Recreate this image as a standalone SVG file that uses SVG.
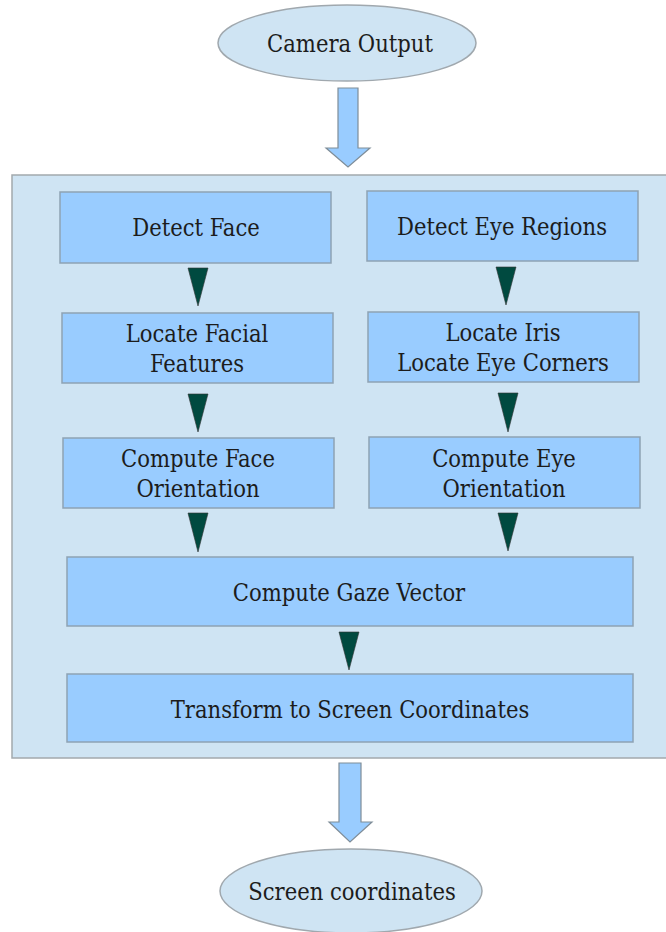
<svg xmlns="http://www.w3.org/2000/svg" width="666" height="932" viewBox="0 0 666 932">
  <style>
    .bg { fill: #ffffff; }
    .panel { fill: #cfe4f3; stroke: #a3a9ad; stroke-width: 1.5; }
    .term { fill: #cfe4f3; stroke: #a0a8ae; stroke-width: 1.5; }
    .step { fill: #99ccff; stroke: #8ea2b4; stroke-width: 1.5; }
    .flow { fill: #99ccff; stroke: #7f8d98; stroke-width: 1.2; }
    .tri { fill: #004a40; stroke: #333; stroke-width: 0.6; }
    .lbl { font-family: 'DejaVu Serif Condensed', 'DejaVu Serif', serif; font-stretch: condensed; font-size: 23.5px; fill: #1c1c1c; text-anchor: middle; }
  </style>

  <rect class="bg" x="0" y="0" width="666" height="932"/>

  <!-- processing panel -->
  <rect id="panel" class="panel" x="12" y="175" width="660" height="583"/>

  <g class="lbl">
  <g id="camera-output">
    <ellipse class="term" cx="347" cy="43" rx="129" ry="38"/>
    <text x="350" y="52">Camera Output</text>
  </g>

  <g id="detect-face">
    <rect class="step" x="60" y="192" width="271" height="71"/>
    <text x="196" y="236">Detect Face</text>
  </g>

  <g id="detect-eye-regions">
    <rect class="step" x="367" y="191" width="271" height="70"/>
    <text x="502" y="235">Detect Eye Regions</text>
  </g>

  <g id="locate-facial-features">
    <rect class="step" x="62" y="313" width="271" height="70"/>
    <text x="197" y="342">Locate Facial</text>
    <text x="197" y="372">Features</text>
  </g>

  <g id="locate-iris">
    <rect class="step" x="368" y="312" width="271" height="70"/>
    <text x="503" y="341">Locate Iris</text>
    <text x="503" y="371">Locate Eye Corners</text>
  </g>

  <g id="face-orientation">
    <rect class="step" x="63" y="438" width="271" height="70"/>
    <text x="198" y="467">Compute Face</text>
    <text x="198" y="497">Orientation</text>
  </g>

  <g id="eye-orientation">
    <rect class="step" x="369" y="437" width="271" height="71"/>
    <text x="504" y="467">Compute Eye</text>
    <text x="504" y="497">Orientation</text>
  </g>

  <g id="gaze-vector">
    <rect class="step" x="67" y="557" width="566" height="69"/>
    <text x="349" y="601">Compute Gaze Vector</text>
  </g>

  <g id="screen-transform">
    <rect class="step" x="67" y="674" width="566" height="68"/>
    <text x="350" y="718">Transform to Screen Coordinates</text>
  </g>

  <g id="screen-coordinates">
    <ellipse class="term" cx="351" cy="891" rx="131" ry="42"/>
    <text x="352" y="900">Screen coordinates</text>
  </g>
  </g>

  <g id="connectors">
    <!-- block arrows into and out of the panel -->
    <polygon class="flow" points="338,88 358,88 358,148 370,148 348,167 326,148 338,148"/>
    <polygon class="flow" points="339,763 361,763 361,822 372,822 350,842 329,822 339,822"/>
    <!-- step triangles -->
    <polygon class="tri" points="188,268 208,268 198,306"/>
    <polygon class="tri" points="496,267 516,267 506,305"/>
    <polygon class="tri" points="188,394 208,394 198,432"/>
    <polygon class="tri" points="498,393 518,393 508,432"/>
    <polygon class="tri" points="188,513 208,513 198,552"/>
    <polygon class="tri" points="498,513 518,513 508,551"/>
    <polygon class="tri" points="339,632 359,632 349,670"/>
  </g>
</svg>
